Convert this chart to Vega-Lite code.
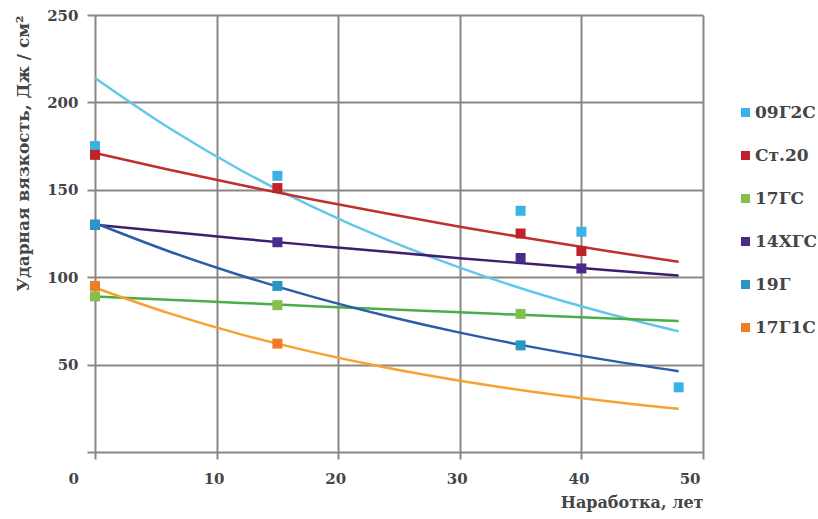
{
  "$schema": "https://vega.github.io/schema/vega-lite/v6.json",
  "autosize": {"type": "none"},
  "width": 608,
  "height": 437,
  "padding": {"left": 95, "top": 15, "right": 115, "bottom": 67},
  "background": "white",
  "config": {
    "view": {"stroke": null},
    "font": "DejaVu Serif"
  },
  "datasets": {
    "points": [
      {"series": "09Г2С", "x": 0, "y": 175},
      {"series": "09Г2С", "x": 15, "y": 158},
      {"series": "09Г2С", "x": 35, "y": 138},
      {"series": "09Г2С", "x": 40, "y": 126},
      {"series": "09Г2С", "x": 48, "y": 37},
      {"series": "Ст.20", "x": 0, "y": 170},
      {"series": "Ст.20", "x": 15, "y": 151},
      {"series": "Ст.20", "x": 35, "y": 125},
      {"series": "Ст.20", "x": 40, "y": 115},
      {"series": "17ГС", "x": 0, "y": 89},
      {"series": "17ГС", "x": 15, "y": 84},
      {"series": "17ГС", "x": 35, "y": 79},
      {"series": "14ХГС", "x": 0, "y": 130},
      {"series": "14ХГС", "x": 15, "y": 120},
      {"series": "14ХГС", "x": 35, "y": 111},
      {"series": "14ХГС", "x": 40, "y": 105},
      {"series": "19Г", "x": 0, "y": 130},
      {"series": "19Г", "x": 15, "y": 95},
      {"series": "19Г", "x": 35, "y": 61},
      {"series": "17Г1С", "x": 0, "y": 95},
      {"series": "17Г1С", "x": 15, "y": 62}
    ],
    "trend": [
      {"curve": "09Г2С", "x": 0, "y": 214},
      {"curve": "09Г2С", "x": 6, "y": 185.8},
      {"curve": "09Г2С", "x": 12, "y": 161.2},
      {"curve": "09Г2С", "x": 18, "y": 140},
      {"curve": "09Г2С", "x": 24, "y": 121.5},
      {"curve": "09Г2С", "x": 30, "y": 105.5},
      {"curve": "09Г2С", "x": 36, "y": 91.5},
      {"curve": "09Г2С", "x": 42, "y": 79.5},
      {"curve": "09Г2С", "x": 48, "y": 69},
      {"curve": "Ст.20", "x": 0, "y": 171},
      {"curve": "Ст.20", "x": 6, "y": 161.6},
      {"curve": "Ст.20", "x": 12, "y": 152.7},
      {"curve": "Ст.20", "x": 18, "y": 144.3},
      {"curve": "Ст.20", "x": 24, "y": 136.4},
      {"curve": "Ст.20", "x": 30, "y": 128.9},
      {"curve": "Ст.20", "x": 36, "y": 121.8},
      {"curve": "Ст.20", "x": 42, "y": 115.1},
      {"curve": "Ст.20", "x": 48, "y": 108.8},
      {"curve": "17ГС", "x": 0, "y": 89},
      {"curve": "17ГС", "x": 6, "y": 87.1},
      {"curve": "17ГС", "x": 12, "y": 85.3},
      {"curve": "17ГС", "x": 18, "y": 83.4},
      {"curve": "17ГС", "x": 24, "y": 81.6},
      {"curve": "17ГС", "x": 30, "y": 79.9},
      {"curve": "17ГС", "x": 36, "y": 78.2},
      {"curve": "17ГС", "x": 42, "y": 76.5},
      {"curve": "17ГС", "x": 48, "y": 74.9},
      {"curve": "14ХГС", "x": 0, "y": 130},
      {"curve": "14ХГС", "x": 6, "y": 126},
      {"curve": "14ХГС", "x": 12, "y": 122},
      {"curve": "14ХГС", "x": 18, "y": 118.2},
      {"curve": "14ХГС", "x": 24, "y": 114.5},
      {"curve": "14ХГС", "x": 30, "y": 110.9},
      {"curve": "14ХГС", "x": 36, "y": 107.5},
      {"curve": "14ХГС", "x": 42, "y": 104.1},
      {"curve": "14ХГС", "x": 48, "y": 100.9},
      {"curve": "19Г", "x": 0, "y": 131},
      {"curve": "19Г", "x": 6, "y": 115},
      {"curve": "19Г", "x": 12, "y": 101},
      {"curve": "19Г", "x": 18, "y": 88.6},
      {"curve": "19Г", "x": 24, "y": 77.8},
      {"curve": "19Г", "x": 30, "y": 68.3},
      {"curve": "19Г", "x": 36, "y": 60},
      {"curve": "19Г", "x": 42, "y": 52.7},
      {"curve": "19Г", "x": 48, "y": 46.2},
      {"curve": "17Г1С", "x": 0, "y": 94},
      {"curve": "17Г1С", "x": 6, "y": 79.6},
      {"curve": "17Г1С", "x": 12, "y": 67.3},
      {"curve": "17Г1С", "x": 18, "y": 57},
      {"curve": "17Г1С", "x": 24, "y": 48.2},
      {"curve": "17Г1С", "x": 30, "y": 40.8},
      {"curve": "17Г1С", "x": 36, "y": 34.5},
      {"curve": "17Г1С", "x": 42, "y": 29.2},
      {"curve": "17Г1С", "x": 48, "y": 24.7}
    ]
  },
  "encoding": {
    "x": {
      "field": "x", "type": "quantitative",
      "scale": {"domain": [0, 50], "nice": false, "zero": false},
      "axis": {
        "title": "Наработка, лет",
        "titleAnchor": "end",
        "titleAlign": "right",
        "titleFont": "DejaVu Serif",
        "titleFontSize": 16,
        "titleFontWeight": "bold",
        "titleColor": "#454545",
        "titlePadding": 8,
        "values": [0, 10, 20, 30, 40, 50],
        "labelFont": "DejaVu Serif",
        "labelFontSize": 15,
        "labelFontWeight": "bold",
        "labelColor": "#454545",
        "labelPadding": 12,
        "labelOffset": {"condition": {"test": "datum.value == 0", "value": -27}, "value": -3},
        "domain": false,
        "grid": true,
        "gridColor": "#8c8682",
        "gridWidth": 2,
        "tickColor": "#8c8682",
        "tickWidth": 2,
        "tickSize": 7
      }
    },
    "y": {
      "field": "y", "type": "quantitative",
      "scale": {"domain": [0, 250], "nice": false},
      "axis": {
        "title": "Ударная вязкость, Дж / см²",
        "titleAnchor": "end",
        "titleFont": "DejaVu Serif",
        "titleFontSize": 17,
        "titleFontWeight": "bold",
        "titleColor": "#454545",
        "titlePadding": 14,
        "values": [0, 50, 100, 150, 200, 250],
        "labelExpr": "datum.value == 0 ? '' : datum.label",
        "labelFont": "DejaVu Serif",
        "labelFontSize": 15,
        "labelFontWeight": "bold",
        "labelColor": "#454545",
        "labelPadding": 9,
        "domain": false,
        "grid": true,
        "gridColor": "#8c8682",
        "gridWidth": 2,
        "tickColor": "#8c8682",
        "tickWidth": 2,
        "tickSize": 8
      }
    }
  },
  "layer": [
    {
      "data": {"name": "trend"},
      "mark": {"type": "line", "interpolate": "monotone", "strokeWidth": 2.5},
      "encoding": {
        "stroke": {
          "field": "curve", "type": "nominal",
          "scale": {
            "domain": ["09Г2С", "Ст.20", "17ГС", "14ХГС", "19Г", "17Г1С"],
            "range": ["#62c8ea", "#c0302c", "#4aad48", "#3c1f6e", "#2c5ca8", "#f5a233"]
          },
          "legend": null
        }
      }
    },
    {
      "data": {"name": "points"},
      "mark": {"type": "point", "shape": "square", "filled": true, "size": 100, "opacity": 1},
      "encoding": {
        "fill": {
          "field": "series", "type": "nominal",
          "scale": {
            "domain": ["09Г2С", "Ст.20", "17ГС", "14ХГС", "19Г", "17Г1С"],
            "range": ["#3ab2e6", "#c0222a", "#84bf4c", "#4b2a8a", "#2a96c6", "#f07c24"]
          },
          "legend": {
            "title": null,
            "orient": "none",
            "legendX": 642,
            "legendY": 89,
            "symbolType": "square",
            "symbolSize": 81,
            "symbolStrokeWidth": 0,
            "labelFont": "DejaVu Serif",
            "labelFontSize": 17,
            "labelFontWeight": "bold",
            "labelColor": "#454545",
            "labelOffset": 1,
            "rowPadding": 25,
            "padding": 0
          }
        }
      }
    }
  ],
  "resolve": {"scale": {"fill": "independent", "stroke": "independent"}, "legend": {"fill": "independent", "stroke": "independent"}}
}
